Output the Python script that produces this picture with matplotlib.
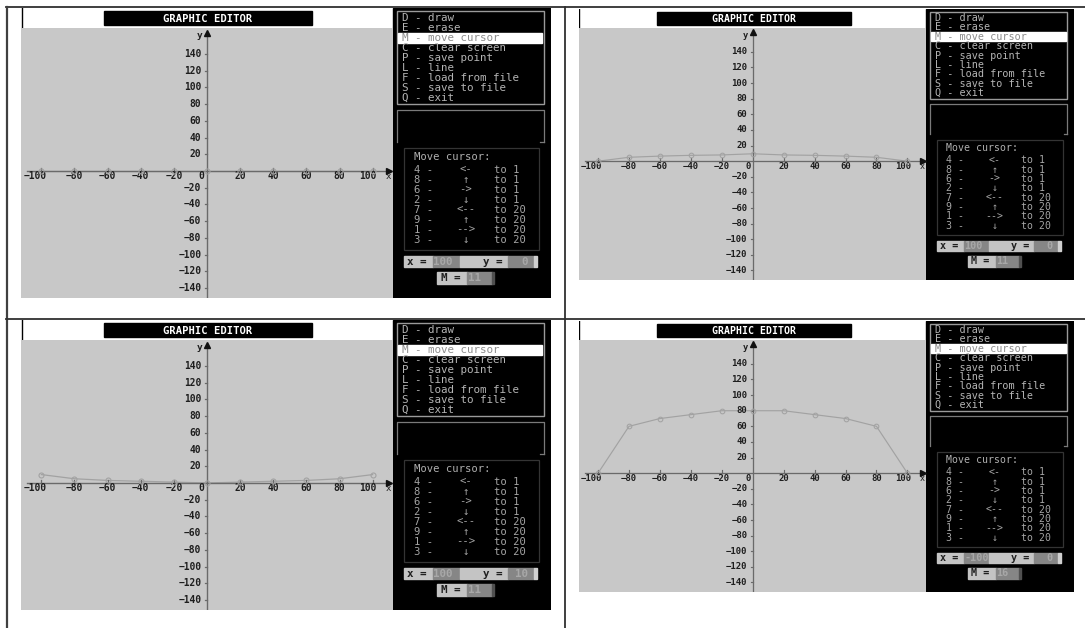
import matplotlib.pyplot as plt
from matplotlib.patches import Rectangle

W, H = 1085, 628
MONO = "DejaVu Sans Mono"

# points saved in the editor (x from -100 to 100, step 20)
x_points = [-100, -80, -60, -40, -20, 0, 20, 40, 60, 80, 100]
y_flat = [0, 0, 0, 0, 0, 0, 0, 0, 0, 0, 0]
y_low_arch = [0, 5, 6.5, 7.5, 8, 9.5, 8, 7.5, 6.5, 5, 0]
y_cup = [10, 5, 3, 2, 1, 0, 1, 2, 3, 5, 10]
y_arch = [0, 60, 70, 75, 80, 80, 80, 75, 70, 60, 0]

x_ticks = [-100, -80, -60, -40, -20, 20, 40, 60, 80, 100]
y_ticks = [140, 120, 100, 80, 60, 40, 20, -20, -40, -60, -80, -100, -120, -140]

menu_items = ["D - draw", "E - erase", "M - move cursor", "C - clear screen",
              "P - save point", "L - line", "F - load from file",
              "S - save to file", "Q - exit"]
move_keys = ["4", "8", "6", "2", "7", "9", "1", "3"]
move_arrows = ["<-", "\u2191", "->", "\u2193", "<--", "\u2191", "-->", "\u2193"]
move_steps = ["1", "1", "1", "1", "20", "20", "20", "20"]

# one entry per screenshot: (left px, top px, scale), points, status values
panels = [
    ((21, 8, 1.0), y_flat, "100", "0", "11"),
    ((579, 9, 0.934), y_low_arch, "100", "0", "11"),
    ((21, 320, 1.0), y_cup, "100", "10", "11"),
    ((579, 321, 0.934), y_arch, "-100", "0", "16"),
]

fig = plt.figure(figsize=(W / 100, H / 100), dpi=100, facecolor="white")

# table grid around the four screenshots
bg = fig.add_axes([0, 0, 1, 1])
bg.set_xlim(0, W)
bg.set_ylim(H, 0)
bg.axis("off")
bg.plot([6, W], [7, 7], color="#303030", lw=1.3)
bg.plot([6.5, 6.5], [7, H], color="#404040", lw=1.6)
bg.plot([6, W], [319, 319], color="#303030", lw=1.3)
bg.plot([565, 565], [7, H], color="#303030", lw=1.3)


def draw_panel(frame, ys, xv, yv, mv):
    ox, oy, s = frame
    # the whole editor screen in its own pixel units (530 x 290)
    sx = fig.add_axes([ox / W, 1 - (oy + 290 * s) / H, 530 * s / W, 290 * s / H])
    sx.set_xlim(0, 530)
    sx.set_ylim(290, 0)
    sx.axis("off")
    sx.add_patch(Rectangle((372, 0), 158, 290, color="black", zorder=1))
    sx.plot([0.5, 0.5], [0, 290], color="black", lw=1.0, zorder=5)
    sx.add_patch(Rectangle((83, 3), 208, 14, color="black", zorder=2))
    sx.text(187, 10.5, "GRAPHIC EDITOR", color="white", ha="center", va="center",
            fontsize=7.6 * s, fontweight="bold", family=MONO, zorder=3)

    # menu
    sx.add_patch(Rectangle((376, 3), 147, 93, fill=False, ec="#9a9a9a", lw=1.0, zorder=2))
    sx.add_patch(Rectangle((377, 25), 144, 9.5, color="white", zorder=2))
    for i, item in enumerate(menu_items):
        c = "#8c8c8c" if i == 2 else "#b4b4b4"
        sx.text(381, 9.6 + 10.05 * i, item, color=c, ha="left", va="center",
                fontsize=7.8 * s, family=MONO, zorder=3)

    # empty message box
    box_c = "#7a7a7a"
    sx.plot([376, 376, 523, 523], [134, 102, 102, 134], color=box_c, lw=0.9, zorder=2)
    sx.plot([519, 523], [134, 134], color=box_c, lw=0.9, zorder=2)

    # move cursor help
    sx.add_patch(Rectangle((383, 140), 135, 102, fill=False, ec="#343434", lw=0.9, zorder=2))
    sx.text(393, 149, "Move cursor:", color="#b0b0b0", ha="left", va="center",
            fontsize=7.6 * s, family=MONO, zorder=3)
    for i, (k, a, st) in enumerate(zip(move_keys, move_arrows, move_steps)):
        yy = 162 + 10 * i
        sx.text(393, yy, k + " -", color="#a4a4a4", ha="left", va="center",
                fontsize=7.6 * s, family=MONO, zorder=3)
        sx.text(445, yy, a, color="#a4a4a4", ha="center", va="center",
                fontsize=7.6 * s, family=MONO, zorder=3)
        sx.text(473, yy, "to " + st, color="#a4a4a4", ha="left", va="center",
                fontsize=7.6 * s, family=MONO, zorder=3)

    # status fields
    light, dark = "#c4c4c4", "#868686"
    for x0, x1, c in [(383, 412, light), (412, 439, dark), (439, 487, light),
                      (487, 513, dark), (513, 516, "#d0d0d0")]:
        sx.add_patch(Rectangle((x0, 248), x1 - x0, 11, color=c, zorder=2))
    for x0, x1, c in [(416, 446, light), (446, 471, dark), (471, 473, "#505050")]:
        sx.add_patch(Rectangle((x0, 264), x1 - x0, 12, color=c, zorder=2))
    fk = dict(va="center", fontsize=7.8 * s, family=MONO, fontweight="bold", zorder=3)
    sx.text(386, 253.8, "x =", color="#202020", ha="left", **fk)
    sx.text(412.5, 253.8, xv, color="#a8a8a8", ha="left", **fk)
    sx.text(462, 253.8, "y =", color="#202020", ha="left", **fk)
    sx.text(507, 253.8, yv, color="#a8a8a8", ha="right", **fk)
    sx.text(420, 270.2, "M =", color="#202020", ha="left", **fk)
    sx.text(447, 270.2, mv, color="#a8a8a8", ha="left", **fk)

    # plotting area
    ax = fig.add_axes([ox / W, 1 - (oy + 290 * s) / H, 372 * s / W, 270 * s / H])
    ax.set_facecolor("#c8c8c8")
    ax.set_xlim(-112.3, 112.3)
    ax.set_ylim(-152, 171)
    for sp in ax.spines.values():
        sp.set_visible(False)
    ax.set_xticks([])
    ax.set_yticks([])

    axis_c = "#6a6a6a"
    lab_c = "#1e1e1e"
    ax.plot([-108.6, 109], [0, 0], color=axis_c, lw=1.0 * s, zorder=3)
    ax.plot([0, 0], [-152, 164], color=axis_c, lw=1.0 * s, zorder=3)
    ax.plot([110], [0], marker=">", ms=4.2 * s, color="#101010", zorder=4)
    ax.plot([0], [165], marker="^", ms=4.2 * s, color="#101010", zorder=4)
    ax.text(109.5, -7, "x", color=lab_c, ha="center", va="center",
            fontsize=6.5 * s, family=MONO, zorder=4)
    ax.text(-4.5, 161.5, "y", color=lab_c, ha="center", va="center",
            fontsize=6.8 * s, family=MONO, fontweight="bold", zorder=4)

    lk = dict(color=lab_c, va="center", fontsize=6.9 * s, family=MONO,
              fontweight="bold", zorder=4)
    for t in x_ticks:
        ax.plot([t, t], [0, 3.5], color=axis_c, lw=0.9 * s, zorder=3)
        dx = -4 if t == -100 else (-3 if t == 100 else 0)
        ax.text(t + dx, -6.5, str(t).replace("-", "\u2212"), ha="center", **lk)
    ax.text(-1.5, -6.5, "0", ha="right", **lk)
    for t in y_ticks:
        ax.plot([-1.3, 0], [t, t], color=axis_c, lw=0.9 * s, zorder=3)
        ax.text(-3.4, t, str(t).replace("-", "\u2212"), ha="right", **lk)

    # saved points joined by lines
    ax.plot(x_points, ys, color="#a2a2a2", lw=0.9 * s, zorder=2)
    ax.plot(x_points, ys, "o", ms=3.6 * s, mfc="none", mec="#a2a2a2",
            mew=0.8 * s, zorder=5)


for frame, ys, xv, yv, mv in panels:
    draw_panel(frame, ys, xv, yv, mv)

fig.savefig("out.png", dpi=100, facecolor="white")
